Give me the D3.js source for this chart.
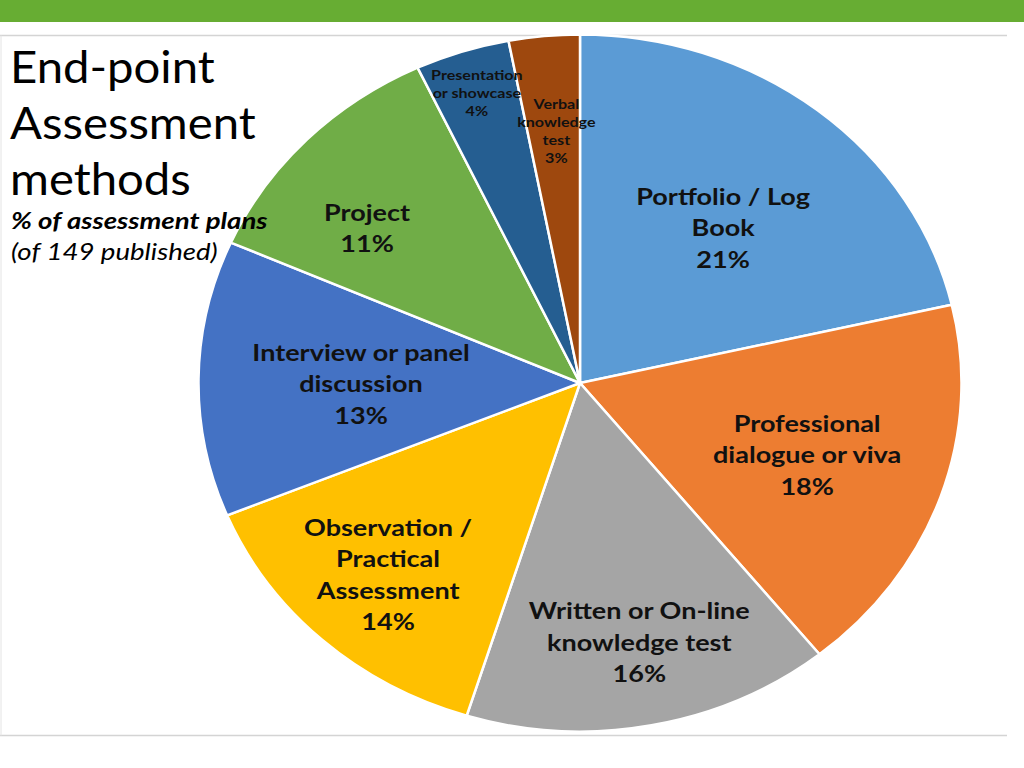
<!DOCTYPE html>
<html>
<head>
<meta charset="utf-8">
<title>End-point Assessment methods</title>
<script src="https://cdn.jsdelivr.net/npm/d3@7"></script>
<style>
  body { margin: 0; background: #fff; }
  text { font-family: Lato, "Open Sans", sans-serif; }
</style>
</head>
<body>
<svg id="chart"></svg>
<script>
// chart values, clockwise from 12 o'clock
const categories = [
  "Portfolio / Log\nBook",
  "Professional\ndialogue or viva",
  "Written or On-line\nknowledge test",
  "Observation /\nPractical\nAssessment",
  "Interview or panel\ndiscussion",
  "Project",
  "Presentation\nor showcase",
  "Verbal\nknowledge\ntest"
]
const shares = [21.4, 17.8, 15.6, 14.0, 12.8, 11.4, 4.0, 3.0]
const colours = ["#5b9bd5", "#ed7d31", "#a5a5a5", "#ffc000", "#4472c4", "#70ad47", "#255e91", "#9e480e"]
const titleLines = ["End-point", "Assessment", "methods"]
const subtitle = "% of assessment plans"
const note = "(of 149 published)"

const width = 1024, height = 768
const cx = 580, cy = 383, rx = 381.5, ry = 348.5
const stretch = rx / ry   // the slide is stretched sideways, text too

// label placement: fraction of radius and small angle nudge (degrees)
const labelR = [0.582, 0.63, 0.76, 0.745, 0.574, 0.714, 0.875, 0.725]
const labelNudge = [1.6, 0, -1, 0, -1, -5.7, 0, 0.5]
const smallLabel = [false, false, false, false, false, false, true, true]

const svg = d3.select("#chart").attr("width", width).attr("height", height)

// green banner and frame
svg.append("rect").attr("x", 0).attr("y", 0).attr("width", width).attr("height", 22).attr("fill", "#67ad33")
svg.append("line").attr("x1", 0).attr("x2", 1007).attr("y1", 35.5).attr("y2", 35.5).attr("stroke", "#d4d4d4").attr("stroke-width", 1.5)
svg.append("line").attr("x1", 0).attr("x2", 1007).attr("y1", 735.5).attr("y2", 735.5).attr("stroke", "#d4d4d4").attr("stroke-width", 1.5)
svg.append("line").attr("x1", 1).attr("x2", 1).attr("y1", 35.5).attr("y2", 735.5).attr("stroke", "#e4e4e4").attr("stroke-width", 1)

const data = categories.map((c, i) => ({ name: c, value: shares[i], color: colours[i], i: i }))

const pie = d3.pie().sort(null).value(d => d.value)
const arcs = pie(data)
const arc = d3.arc().innerRadius(0).outerRadius(ry)

const g = svg.append("g")
  .attr("transform", `translate(${cx},${cy}) scale(${stretch},1)`)

g.selectAll("path")
  .data(arcs)
  .enter()
  .append("path")
  .attr("d", arc)
  .attr("fill", d => d.data.color)
  .attr("stroke", "#fff")
  .attr("stroke-width", 2.5)
  .attr("vector-effect", "non-scaling-stroke")

// labels
const labels = svg.append("g")
arcs.forEach(a => {
  const i = a.data.i
  const mid = (a.startAngle + a.endAngle) / 2 + labelNudge[i] * Math.PI / 180
  const r = labelR[i]
  const x = cx + Math.sin(mid) * rx * r
  const y = cy - Math.cos(mid) * ry * r
  const lines = a.data.name.split("\n").concat([Math.round(a.data.value) + "%"])
  const fs = smallLabel[i] ? 14 : 23.5
  const lh = smallLabel[i] ? 18 : 31.5
  const t = labels.append("text")
    .attr("transform", `translate(${x},${y}) scale(1.15,1)`)
    .attr("text-anchor", "middle")
    .attr("font-weight", "bold")
    .attr("font-size", fs)
    .attr("fill", "#111")
  lines.forEach((l, k) => {
    t.append("tspan")
      .attr("x", 0)
      .attr("y", (k - (lines.length - 1) / 2) * lh + fs * 0.36)
      .text(l)
  })
})

// title block
const title = svg.append("text")
  .attr("transform", "translate(10,0) scale(1.075,1)")
  .attr("font-size", 44).attr("fill", "#000")
titleLines.forEach((l, k) => {
  title.append("tspan").attr("x", 0).attr("y", 83 + k * 56).text(l)
})
svg.append("text")
  .attr("transform", "translate(11,229) scale(1.2,1)")
  .attr("font-size", 23).attr("font-weight", "bold").attr("font-style", "italic")
  .text(subtitle)
svg.append("text")
  .attr("transform", "translate(11,260) scale(1.2,1)")
  .attr("font-size", 23).attr("font-style", "italic")
  .text(note)
</script>
</body>
</html>
